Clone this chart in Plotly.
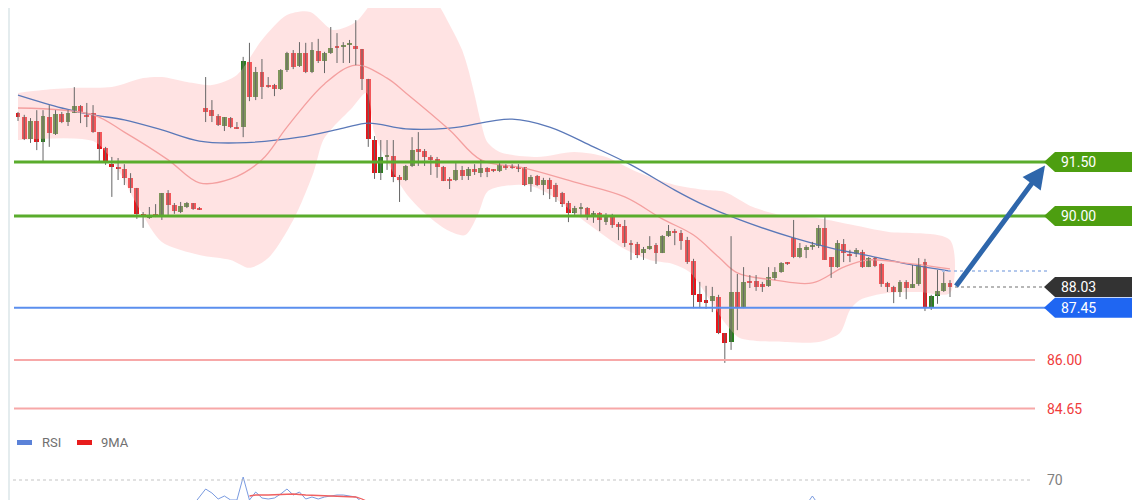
import plotly.graph_objects as go

# page is rendered with an 8px body margin; figure is sized to fit inside the window
OFF = 8
W, H = 1140 - OFF, 500 - OFF

# ---------------- data ----------------
opens = [92.86,92.75,92.14,92.64,92.06,92.75,92.28,92.83,92.61,92.86,
         93.06,92.78,92.86,92.33,91.89,91.44,91.36,91.31,91.06,90.78,
         90.06,89.94,90.03,90.00,90.64,90.31,90.11,90.25,90.36,90.22,
         93.00,92.94,92.78,92.50,92.72,92.47,92.47,94.28,93.31,94.00,
         93.64,93.64,93.53,94.06,94.53,94.17,94.53,94.00,94.58,94.31,
         94.53,94.72,94.72,94.75,94.72,94.64,93.81,92.11,91.19,91.64,
         91.67,91.08,91.00,91.39,91.86,91.81,91.64,91.58,91.36,91.03,
         91.00,91.28,91.11,91.31,91.19,91.33,91.28,91.25,91.42,91.39,
         91.36,91.36,90.89,91.11,90.86,91.00,90.86,90.64,90.36,90.08,
         90.19,90.22,90.00,90.08,89.83,90.00,89.78,89.72,89.25,89.22,
         88.97,89.08,89.19,88.97,89.44,89.58,89.53,89.33,88.75,87.83,
         87.67,87.64,87.75,86.75,86.50,87.89,87.47,88.19,88.19,88.11,
         88.06,88.28,88.44,88.69,89.39,88.86,89.06,89.14,89.17,89.67,
         88.86,88.58,89.22,88.94,88.94,89.00,88.58,88.83,88.67,88.14,
         88.03,87.89,88.17,88.00,88.11,88.72,87.44,87.78,87.92,88.14]
highs = [92.89,92.81,92.72,92.94,92.94,93.08,92.94,92.89,92.94,93.58,
         93.08,93.14,93.08,92.33,91.92,91.64,91.61,91.44,91.19,90.78,
         90.11,90.25,90.33,90.64,90.72,90.36,90.39,90.39,90.36,90.25,
         93.86,93.22,92.83,92.75,92.75,92.61,94.42,94.81,94.14,94.36,
         93.86,93.67,94.08,94.56,94.61,94.83,94.81,94.83,94.92,94.56,
         95.25,95.08,94.83,94.89,95.44,94.64,93.81,92.22,92.11,92.11,
         92.11,91.14,91.42,92.19,92.33,91.86,91.69,91.64,91.39,91.08,
         91.47,91.39,91.36,91.44,91.56,91.36,91.30,91.50,91.44,91.44,
         91.44,91.36,91.14,91.14,91.06,91.06,90.92,90.67,90.42,90.28,
         90.36,90.25,90.14,90.11,90.08,90.06,89.83,89.89,89.33,89.28,
         89.14,89.44,89.25,89.47,89.75,89.64,89.61,89.42,88.81,88.17,
         88.06,88.03,87.81,86.75,89.44,88.39,88.58,88.36,88.36,88.17,
         88.58,88.58,88.72,88.72,89.89,89.25,89.19,89.28,89.75,89.97,
         88.86,89.33,89.36,89.06,89.11,89.06,88.86,88.86,88.69,88.17,
         88.06,88.22,88.22,88.64,88.83,88.81,87.81,88.50,88.44,88.22]
lows = [92.64,92.11,92.03,91.83,91.50,91.92,92.25,92.58,92.50,92.86,
        92.58,92.47,92.31,91.50,91.42,90.53,91.00,90.86,90.64,89.92,
        89.67,89.92,89.97,89.89,90.03,90.06,90.08,90.22,90.17,90.17,
        92.61,92.61,92.50,92.36,92.44,92.42,92.19,93.19,93.22,93.25,
        93.56,93.33,93.50,94.00,94.08,94.14,93.97,93.97,94.25,93.97,
        94.50,94.25,94.25,94.25,94.19,93.50,91.92,91.03,91.00,91.28,
        90.94,90.39,90.97,91.36,91.39,91.39,91.14,91.06,90.97,90.75,
        90.97,91.00,91.00,91.14,91.08,91.08,91.22,91.22,91.28,91.31,
        91.22,90.83,90.67,90.83,90.58,90.47,90.39,90.25,89.83,90.03,
        90.03,89.89,89.81,89.58,89.75,89.67,89.33,89.14,88.78,88.83,
        88.78,89.06,88.67,88.97,89.42,89.19,89.06,88.67,87.44,87.44,
        87.42,87.33,86.72,85.92,86.28,86.83,87.44,88.00,87.92,87.89,
        88.03,88.22,88.42,88.64,88.83,88.83,88.83,89.06,89.11,88.78,
        88.28,88.56,88.72,88.72,88.86,88.56,88.58,88.58,88.03,87.89,
        87.58,87.75,87.69,88.00,88.06,87.36,87.39,87.56,87.89,87.75]
closes = [92.75,92.14,92.64,92.06,92.78,92.31,92.83,92.61,92.86,93.06,
          92.86,92.75,92.33,91.86,91.50,91.36,91.31,91.06,90.78,90.06,
          89.97,90.03,90.02,90.64,90.31,90.14,90.28,90.36,90.19,90.19,
          92.89,92.78,92.53,92.75,92.47,92.44,94.31,93.31,94.00,93.58,
          93.58,93.53,94.06,94.53,94.14,94.53,94.00,94.61,94.31,94.53,
          94.67,94.69,94.75,94.78,94.64,93.81,92.14,91.19,91.64,91.69,
          91.08,91.00,91.39,91.83,91.78,91.64,91.56,91.36,90.97,90.97,
          91.28,91.11,91.31,91.22,91.33,91.22,91.25,91.42,91.33,91.33,
          91.33,90.86,91.08,90.86,91.00,90.75,90.53,90.33,90.08,90.22,
          90.25,90.03,90.08,89.89,90.00,89.75,89.69,89.25,89.19,88.92,
          89.08,89.17,88.97,89.44,89.58,89.53,89.31,88.72,87.81,87.61,
          87.58,87.78,86.75,86.47,87.89,87.47,88.17,88.14,88.03,88.03,
          88.31,88.44,88.69,88.67,88.86,89.11,89.14,89.19,89.67,88.78,
          88.58,89.25,88.97,88.89,89.06,88.58,88.83,88.61,88.11,88.03,
          87.89,88.17,88.00,88.11,88.67,87.44,87.78,87.92,88.14,88.03]
bars = list(range(len(closes)))

# slow moving average (blue)
ma_slow_x = [0,7,12,17,23,29,35,45,52,56,62,69,79,85,92,98,105,109,115,124,130,137,143,149]
ma_slow = [93.36,93.00,92.81,92.67,92.39,92.08,92.03,92.19,92.44,92.58,92.42,92.44,
           92.69,92.47,91.92,91.42,90.72,90.36,89.92,89.39,89.11,88.86,88.64,88.47]

# fast moving average / band middle (red)
ma_fast_x = [0,12,17,24,29,34,39,43,49,54,59,62,69,74,81,89,97,103,108,112,115,121,127,132,136,143,149]
ma_fast = [93.00,92.81,92.33,91.56,90.92,91.03,91.56,92.47,93.67,94.19,93.83,93.42,
           92.39,91.56,91.33,90.94,90.53,89.92,89.47,88.86,88.42,88.22,88.14,88.58,
           88.78,88.67,88.53]

# Bollinger bands
upper_x = [0,4,9,15,20,23,27,31,35,39,43,46.7,50.4,54,57,60,64,67,69,71,72,73,74,75,77,
           83,89,94,99,105,110,113,117.5,122,128,133.5,139,149]
upper = [93.42,93.50,93.56,93.58,93.83,93.86,93.72,93.64,93.92,94.89,95.58,95.67,95.17,
         95.39,96.00,96.30,96.20,95.90,95.31,94.61,94.06,93.36,92.61,92.06,91.78,
         91.64,91.78,91.64,91.22,90.86,90.72,90.67,90.25,90.03,89.94,89.75,89.56,89.33]
lower_x = [0,12,15,19.5,23,29,34,37,40,44,47.2,48.8,50.4,53.4,55.7,57,59.5,62,65,68.6,71.5,
           73.5,75,77,81.4,84.6,91.4,96.7,101,104.7,107.4,110.6,113.3,115.4,123,128,
           131.4,133,134.6,139,144,149]
lower = [92.11,92.08,91.56,90.17,89.28,88.92,88.78,88.56,88.83,89.89,91.19,92.11,92.47,
         93.00,93.42,92.30,91.36,90.64,90.08,89.61,89.47,90.03,90.67,90.81,90.86,90.64,
         89.75,89.11,88.78,88.67,88.44,87.67,86.97,86.61,86.50,86.50,86.75,87.39,87.67,
         87.86,87.89,87.86]

# RSI panel (visible part only)
rsi_x = [28,30,31,32,33,34,35,36,37,38,39,40,41,42,43,44,45,46,47,48,49,50,51,52,53,54,55,56,
         None,126,127,128]
rsi = [45,61,57,51,54,50,50,73,50,58,52,51,52,56,61,55,58,51,53,51,53,54,55,55,54,53,48,40,
       None,45,54,45]
rsi_ma_x = [37,38,40,42,44,46,48,50,52,54,55,56]
rsi_ma = [54,55,55,55.5,56,55,54.5,54,54,53,51,48]

# levels
green_levels = [91.50, 90.00]
last_price = 88.03
support_level = 87.45
red_levels = [86.00, 84.65]
rsi_level = 70
ma_last = 88.47
target = 91.50

# ---------------- geometry helpers (page pixels -> figure coords) ----------------
px_per_bar = 6.255
px_per_unit = 36.0
x_start = (OFF - 18) / px_per_bar            # candle 0 sits at page x = 18
xr = [x_start, x_start + W / px_per_bar]
y_top = 90 + (216 - OFF) / px_per_unit        # price 90 sits at page y = 216
yr = [y_top - H / px_per_unit, y_top]

def px(v):
    return (v - OFF) / W

def py(v):
    return 1 - (v - OFF) / H

fig = go.Figure()

# band fill
fig.add_trace(go.Scatter(
    x=upper_x + lower_x[::-1], y=upper + lower[::-1],
    fill="toself", fillcolor="rgba(255,185,185,0.40)",
    line=dict(width=0, shape="spline", smoothing=0.8),
    mode="lines", hoverinfo="skip", showlegend=False))

fig.add_trace(go.Scatter(x=ma_slow_x, y=ma_slow, mode="lines",
                         line=dict(color="#5a78b8", width=1.3, shape="spline"),
                         showlegend=False, hoverinfo="skip"))
fig.add_trace(go.Scatter(x=ma_fast_x, y=ma_fast, mode="lines",
                         line=dict(color="#f4a0a0", width=1.3, shape="spline"),
                         showlegend=False, hoverinfo="skip"))

# candle wicks
wx, wy = [], []
for i, lo, hi in zip(bars, lows, highs):
    wx += [i, i, None]
    wy += [lo, hi, None]
fig.add_trace(go.Scatter(x=wx, y=wy, mode="lines", line=dict(color="#666666", width=1),
                         showlegend=False, hoverinfo="skip"))

# candle bodies
base = [min(o, c) for o, c in zip(opens, closes)]
height = [max(abs(c - o), 0.035) for o, c in zip(opens, closes)]
cols = ["#2b7d1f" if c >= o else "#e8161b" for o, c in zip(opens, closes)]
fig.add_trace(go.Bar(x=bars, base=base, y=height, width=0.78,
                     marker=dict(color=cols, line=dict(width=0)),
                     showlegend=False, hoverinfo="skip"))

# RSI
fig.add_trace(go.Scatter(x=rsi_x, y=rsi, mode="lines", yaxis="y2",
                         line=dict(color="#7a9be0", width=1),
                         showlegend=False, hoverinfo="skip", connectgaps=False))
fig.add_trace(go.Scatter(x=rsi_ma_x, y=rsi_ma, mode="lines", yaxis="y2",
                         line=dict(color="#f06060", width=1.3),
                         showlegend=False, hoverinfo="skip"))

shapes = []
annots = []

# left faint border
shapes.append(dict(type="line", xref="paper", yref="paper", x0=px(9), x1=px(9), y0=0, y1=1,
                   line=dict(color="#e4ecee", width=2)))

# green resistance lines
for lv in green_levels:
    shapes.append(dict(type="line", xref="paper", yref="y", x0=px(14), x1=px(1048), y0=lv, y1=lv,
                       line=dict(color="#5aac2c", width=3)))
# support blue
shapes.append(dict(type="line", xref="paper", yref="y", x0=px(14), x1=px(1048),
                   y0=support_level, y1=support_level, line=dict(color="#5b8fee", width=2)))
# red lines
for lv in red_levels:
    shapes.append(dict(type="line", xref="paper", yref="y", x0=px(14), x1=px(1035), y0=lv, y1=lv,
                       line=dict(color="#f7a8a8", width=2)))
    annots.append(dict(xref="paper", yref="y", x=px(1045), y=lv, xanchor="left", yanchor="middle",
                       text=f"{lv:.2f}", showarrow=False,
                       font=dict(family="Roboto", size=14, color="#f03c3c")))

# dotted lines
shapes.append(dict(type="line", xref="paper", yref="y", x0=px(942), x1=px(1048), y0=ma_last, y1=ma_last,
                   line=dict(color="#9ab6e6", width=1.5, dash="dot")))
shapes.append(dict(type="line", xref="paper", yref="y", x0=px(955), x1=px(1048), y0=last_price, y1=last_price,
                   line=dict(color="#a0a0a0", width=1.5, dash="dot")))

# tags
def tag(price, color):
    h = 10.0 / px_per_unit
    xp, xl, xr_ = px(1044), px(1055), px(1137)
    path = (f"M {xp},{price} L {xl},{price + h} L {xr_},{price + h} "
            f"L {xr_},{price - h} L {xl},{price - h} Z")
    shapes.append(dict(type="path", xref="paper", yref="y", path=path,
                       fillcolor=color, line=dict(width=0)))
    annots.append(dict(xref="paper", yref="y", x=px(1059), y=price, xanchor="left", yanchor="middle",
                       text=f"{price:.2f}", showarrow=False,
                       font=dict(family="Roboto", size=14, color="white")))

tag(green_levels[0], "#4d9e10")
tag(green_levels[1], "#4d9e10")
tag(last_price, "#333333")
tag(support_level, "#1f66f2")

# arrow
annots.append(dict(xref="paper", yref="y", x=px(1045), y=target - 0.1, ax=-90, ay=122,
                   axref="pixel", ayref="pixel", text="", showarrow=True,
                   arrowhead=2, arrowsize=0.9, arrowwidth=5, arrowcolor="#2e66ab"))

# RSI panel extras
shapes.append(dict(type="line", xref="paper", yref="y2", x0=px(13), x1=px(1032), y0=rsi_level, y1=rsi_level,
                   line=dict(color="#c4c4c4", width=1.2, dash="dot")))
annots.append(dict(xref="paper", yref="y2", x=px(1045), y=rsi_level, xanchor="left", yanchor="middle",
                   text=str(rsi_level), showarrow=False,
                   font=dict(family="Roboto", size=14, color="#808080")))

# legend
shapes.append(dict(type="rect", xref="paper", yref="paper", x0=px(17), x1=px(32),
                   y0=py(445), y1=py(440), fillcolor="#5b82d8", line=dict(width=0)))
shapes.append(dict(type="rect", xref="paper", yref="paper", x0=px(77), x1=px(92),
                   y0=py(445), y1=py(440), fillcolor="#e81c1c", line=dict(width=0)))
annots.append(dict(xref="paper", yref="paper", x=px(40), y=py(442.5), xanchor="left", yanchor="middle",
                   text="RSI", showarrow=False, font=dict(family="Roboto", size=13, color="#707070")))
annots.append(dict(xref="paper", yref="paper", x=px(99), y=py(442.5), xanchor="left", yanchor="middle",
                   text="9MA", showarrow=False, font=dict(family="Roboto", size=13, color="#707070")))

rsi_dom_top = (500 - 440) / H
fig.update_layout(
    width=W, height=H,
    margin=dict(l=0, r=0, t=0, b=0),
    paper_bgcolor="white", plot_bgcolor="white",
    barmode="overlay", bargap=0,
    xaxis=dict(range=xr, visible=False, fixedrange=True),
    yaxis=dict(range=yr, visible=False, domain=[0, 1]),
    yaxis2=dict(range=[50, 110], visible=False, domain=[0, rsi_dom_top], anchor="x"),
    shapes=shapes, annotations=annots,
    showlegend=False,
)

fig.write_html("out.html")
